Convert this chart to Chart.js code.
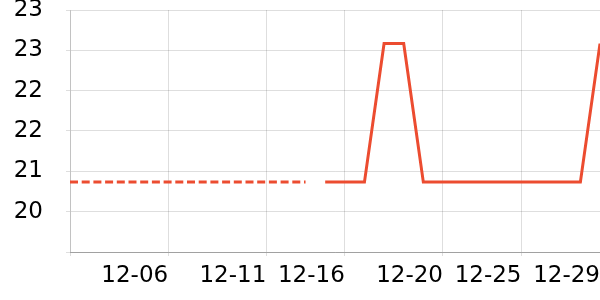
<!DOCTYPE html>
<html>
<head>
<meta charset="utf-8">
<script src="https://cdn.jsdelivr.net/npm/chart.js@4/dist/chart.umd.min.js"></script>
<style>
html,body{margin:0;padding:0;background:#fff;}
#wrap{width:600px;height:300px;}
</style>
</head>
<body>
<div id="wrap"><canvas id="c" width="600" height="300"></canvas></div>
<script>
// ---- data ----
const categories = ['12-01','12-02','12-03','12-04','12-05','12-06','12-07','12-08','12-09','12-10',
  '12-11','12-12','12-13','12-15','12-16','12-17','12-18','12-19','12-19','12-20',
  '12-21','12-22','12-24','12-25','12-26','12-27','12-28','12-29'];
const dashedValues = [20.84,20.84,20.84,20.84,20.84,20.84,20.84,20.84,20.84,20.84,20.84,20.84,20.84,
  null,null,null,null,null,null,null,null,null,null,null,null,null,null,null];
const solidValues = [null,null,null,null,null,null,null,null,null,null,null,null,null,
  20.84,20.84,20.84,22.9,22.9,20.84,20.84,20.84,20.84,20.84,20.84,20.84,20.84,20.84,22.9];
const xTickIndex = [0,5,10,14,19,23,27];
const xTickLabels = ['','12-06','12-11','12-16','12-20','12-25','12-29'];
const yTickLabels = ['','20','21','22','22','23','23'];
const yMin = 19.8, yMax = 23.4, yStep = 0.6;

const lineColor = 'rgb(236,76,48)';
const font = {family:'DejaVu Sans', size:23, lineHeight:1};

new Chart(document.getElementById('c'), {
  type:'line',
  data:{
    labels:categories,
    datasets:[
      {data:dashedValues, borderColor:lineColor, borderWidth:3, borderDash:[8,3.7], pointRadius:0, tension:0, spanGaps:false},
      {data:solidValues, borderColor:lineColor, borderWidth:3, pointRadius:0, tension:0, spanGaps:false}
    ]
  },
  options:{
    responsive:false,
    animation:false,
    layout:{padding:0},
    plugins:{legend:{display:false}, tooltip:{enabled:false}},
    scales:{
      x:{
        type:'category',
        offset:false,
        grid:{color:'rgba(0,0,0,0.13)', tickLength:4, lineWidth:1},
        border:{color:'rgba(0,0,0,0.28)'},
        ticks:{autoSkip:false, maxRotation:0, minRotation:0, align:'end', padding:9, color:'#000', font:font,
          callback:(v,i)=>xTickLabels[i]},
        afterBuildTicks:(s)=>{ s.ticks = xTickIndex.map(i=>({value:i})); },
        afterFit:(s)=>{ s.height = 48; s.paddingLeft = 0; s.paddingRight = 0; }
      },
      y:{
        min:yMin, max:yMax,
        grid:{color:'rgba(0,0,0,0.13)', tickLength:4, lineWidth:1},
        border:{color:'rgba(0,0,0,0.13)'},
        ticks:{stepSize:yStep, padding:23, color:'#000', font:font,
          callback:(v,i)=>yTickLabels[i]},
        afterFit:(s)=>{ s.width = 70; s.paddingTop = 10; s.paddingBottom = 0; }
      }
    }
  }
});
</script>
</body>
</html>
